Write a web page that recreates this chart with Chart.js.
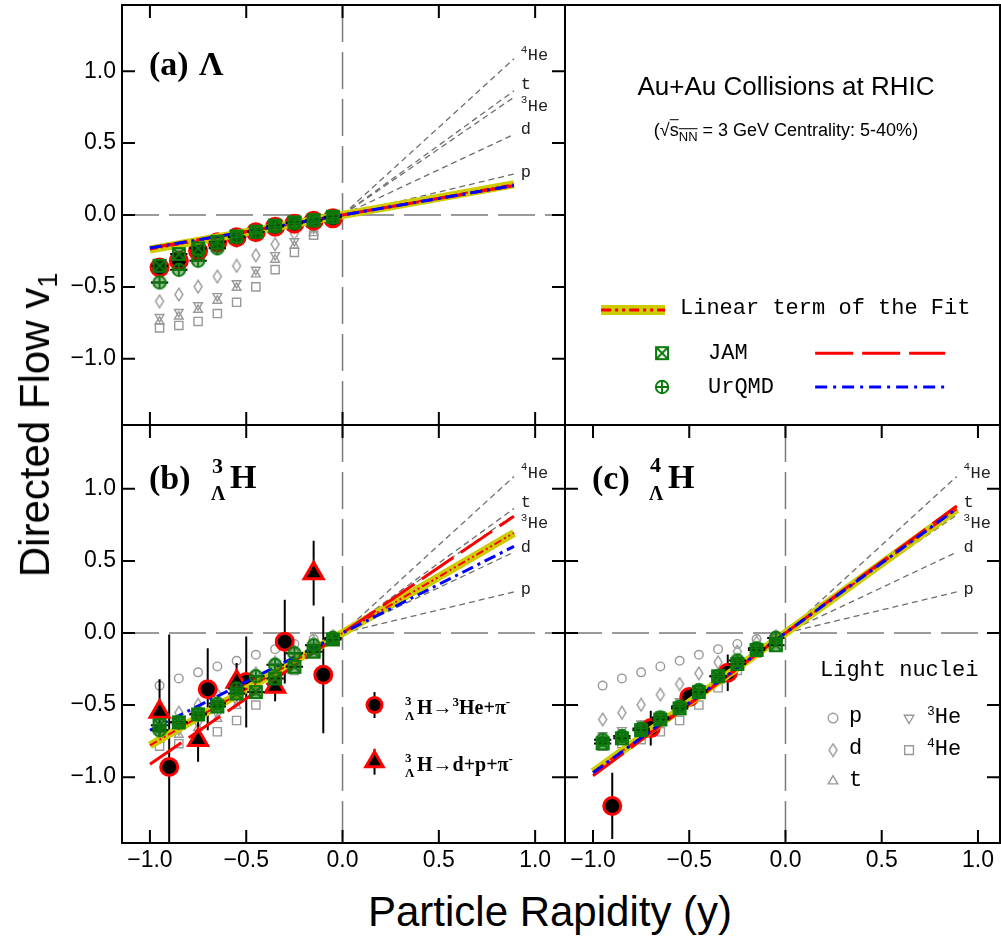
<!DOCTYPE html>
<html><head><meta charset="utf-8">
<script src="https://cdn.jsdelivr.net/npm/chart.js@4.4.1/dist/chart.umd.min.js"></script>
<style>
body{margin:0;background:#fff;width:1001px;height:944px;position:relative;overflow:hidden;font-family:'Liberation Sans',Arial,sans-serif}
canvas{position:absolute}
.t{position:absolute;white-space:nowrap;line-height:1;color:#000}
.mono{font-family:'Liberation Mono','Courier New',monospace}
.serif{font-family:'Liberation Serif','Times New Roman',serif;font-weight:bold}
.vc{transform:translateY(-50%)}
.cc{transform:translate(-50%,-50%)}
sup{line-height:0}
</style></head><body>
<canvas id="ca" width="566" height="426" style="left:0px;top:0px"></canvas>
<canvas id="cl" width="437" height="422" style="left:564px;top:4px"></canvas>
<canvas id="cb" width="566" height="450" style="left:0px;top:424px"></canvas>
<canvas id="cc" width="437" height="450" style="left:564px;top:424px"></canvas>

<div class="t" style="left:38px;top:425px;font-size:42px;transform:translate(-50%,-50%) rotate(-90deg)">Directed Flow v<sub style="font-size:27px;vertical-align:-0.3em">1</sub></div>
<div class="t cc" style="left:550px;top:912px;font-size:42px">Particle Rapidity (y)</div>

<div class="t serif vc" style="left:149px;top:64px;font-size:34px">(a)</div>
<div class="t serif vc" style="left:199px;top:64px;font-size:34px">Λ</div>

<div class="t serif vc" style="left:149px;top:478px;font-size:34px">(b)</div>
<div class="t serif vc" style="left:212px;top:466px;font-size:22px">3</div>
<div class="t serif vc" style="left:211px;top:493px;font-size:20px">Λ</div>
<div class="t serif vc" style="left:230px;top:477px;font-size:34px">H</div>

<div class="t serif vc" style="left:592px;top:478px;font-size:34px">(c)</div>
<div class="t serif vc" style="left:650px;top:465px;font-size:22px">4</div>
<div class="t serif vc" style="left:649px;top:493px;font-size:20px">Λ</div>
<div class="t serif vc" style="left:668px;top:477px;font-size:34px">H</div>

<div class="t cc" style="left:786px;top:86px;font-size:26px">Au+Au Collisions at RHIC</div>
<div class="t cc" style="left:786px;top:132px;font-size:18px">(√<span style="text-decoration:overline">s<sub style="font-size:13px">NN</sub></span> = 3 GeV Centrality: 5-40%)</div>
<div class="t mono vc" style="left:680px;top:309px;font-size:22px">Linear term of the Fit</div>
<div class="t mono vc" style="left:708px;top:354px;font-size:22px">JAM</div>
<div class="t mono vc" style="left:708px;top:388px;font-size:22px">UrQMD</div>

<div class="t serif vc" style="left:405px;top:700px;font-size:13px">3</div>
<div class="t serif vc" style="left:405px;top:715px;font-size:13px">Λ</div>
<div class="t serif vc" style="left:417px;top:707px;font-size:20px">H→<sup style="font-size:13px">3</sup>He+π<sup style="font-size:13px">-</sup></div>
<div class="t serif vc" style="left:405px;top:757px;font-size:13px">3</div>
<div class="t serif vc" style="left:405px;top:772px;font-size:13px">Λ</div>
<div class="t serif vc" style="left:417px;top:764px;font-size:20px">H→d+p+π<sup style="font-size:13px">-</sup></div>

<div class="t mono vc" style="left:820px;top:671px;font-size:22px">Light nuclei</div>
<div class="t mono vc" style="left:849px;top:717px;font-size:22px">p</div>
<div class="t mono vc" style="left:849px;top:749px;font-size:22px">d</div>
<div class="t mono vc" style="left:849px;top:781px;font-size:22px">t</div>
<div class="t mono vc" style="left:927px;top:718px;font-size:22px"><sup style="font-size:13px">3</sup>He</div>
<div class="t mono vc" style="left:927px;top:750px;font-size:22px"><sup style="font-size:13px">4</sup>He</div>

<script>
// ---------------- data ----------------
const rapidityBins = [-0.95, -0.85, -0.75, -0.65, -0.55, -0.45, -0.35, -0.25, -0.15, -0.05];
const tickValues = [-1.0, -0.5, 0.0, 0.5, 1.0];

// light nuclei v1 (same reference points in every panel)
const v1Proton   = [-0.365, -0.315, -0.273, -0.232, -0.193, -0.151, -0.112, -0.076, -0.042, -0.015];
const v1Deuteron = [-0.600, -0.553, -0.498, -0.428, -0.354, -0.280, -0.203, -0.128, -0.065, -0.022];
const v1Triton   = [-0.741, -0.706, -0.659, -0.596, -0.506, -0.413, -0.311, -0.214, -0.126, -0.056];
const v1Helium3  = [-0.709, -0.674, -0.627, -0.564, -0.474, -0.381, -0.279, -0.182, -0.094, -0.024];
const v1Helium4  = [-0.785, -0.768, -0.740, -0.685, -0.607, -0.500, -0.380, -0.260, -0.140, -0.050];

// slopes of the light nuclei reference lines
const nucleiNames  = ['p', 'd', '3He', 't', '4He'];
const nucleiSlopes = [0.32, 0.63, 0.92, 0.97, 1.22];
const nucleiLineEnd = 0.89;

// (a) Lambda
const lambdaV1    = [-0.365, -0.318, -0.249, -0.190, -0.155, -0.120, -0.081, -0.060, -0.040, -0.023];
const jamLambda   = [-0.353, -0.272, -0.232, -0.186, -0.149, -0.116, -0.074, -0.051, -0.036, -0.012];
const urqmdLambda = [-0.469, -0.381, -0.318, -0.232, -0.155, -0.118, -0.080, -0.057, -0.038, -0.018];

// (b) hypertriton
const h3TwoBodyY    = [-0.9, -0.7, -0.5, -0.3, -0.1];
const h3TwoBodyV1   = [-0.93, -0.39, -0.34, -0.06, -0.29];
const h3TwoBodyErr  = [0.92, 0.285, 0.315, 0.29, 0.405];
const h3ThreeBodyY   = [-0.95, -0.75, -0.55, -0.35, -0.15];
const h3ThreeBodyV1  = [-0.546, -0.743, -0.338, -0.373, 0.415];
const h3ThreeBodyErr = [0.225, 0.15, 0.13, 0.10, 0.225];
const jamH3   = [-0.640, -0.620, -0.565, -0.510, -0.420, -0.410, -0.315, -0.235, -0.130, -0.045];
const urqmdH3 = [-0.675, -0.620, -0.560, -0.490, -0.385, -0.300, -0.220, -0.140, -0.085, -0.035];

// (c) hyperhydrogen-4
const h4Y   = [-0.9, -0.7, -0.5, -0.3];
const h4V1  = [-1.20, -0.66, -0.444, -0.276];
const h4Err = [0.23, 0.12, 0.04, 0.127];
const jamH4   = [-0.766, -0.731, -0.674, -0.600, -0.523, -0.410, -0.300, -0.215, -0.118, -0.085];
const urqmdH4 = [-0.740, -0.715, -0.662, -0.586, -0.510, -0.396, -0.300, -0.190, -0.106, -0.035];

// slopes: [linear term of fit, JAM, UrQMD]
const fitSlopesLambda = [0.24, 0.23, 0.23];
const fitSlopesH3     = [0.78, 0.91, 0.675];
const fitSlopesH4     = [0.965, 0.99, 0.97];
const fitRange = [-1.0, 0.89];
const modelBinHalfWidth = 0.045;

// ---------------- styles ----------------
const GREEN = '#0b7a0b', GRAY = '#999999', YELLOW = '#cccc00', RED = '#ff0000', BLUE = '#0000ff';
const SANS = "'Liberation Sans', Arial, sans-serif";
const MONO = "'Liberation Mono', 'Courier New', monospace";

function mk(w, h, draw){ const c = document.createElement('canvas'); c.width = w; c.height = h; draw(c.getContext('2d')); return c; }
const makeBoxX = fill => mk(16, 16, g => { if (fill) { g.fillStyle = fill; g.fillRect(2, 2, 12, 12); }
  g.strokeStyle = GREEN; g.lineWidth = 2; g.strokeRect(2, 2, 12, 12);
  g.beginPath(); g.moveTo(2, 2); g.lineTo(14, 14); g.moveTo(14, 2); g.lineTo(2, 14); g.stroke(); });
const makeCirclePlus = fill => mk(16, 16, g => { g.beginPath(); g.arc(8, 8, 6.2, 0, Math.PI * 2);
  if (fill) { g.fillStyle = fill; g.fill(); }
  g.strokeStyle = GREEN; g.lineWidth = 2; g.stroke();
  g.beginPath(); g.moveTo(8, 1.5); g.lineTo(8, 14.5); g.moveTo(1.5, 8); g.lineTo(14.5, 8); g.stroke(); });
const boxX = makeBoxX(null), circlePlus = makeCirclePlus(null);
const boxXPlot = makeBoxX('rgba(0,95,0,0.5)'), circlePlusPlot = makeCirclePlus('rgba(0,95,0,0.4)');
const diamond = mk(12, 15, g => { g.strokeStyle = GRAY; g.lineWidth = 1.4; g.beginPath();
  g.moveTo(6, 1.2); g.lineTo(10, 7.5); g.lineTo(6, 13.8); g.lineTo(2, 7.5); g.closePath(); g.stroke(); });

const pts = (xs, ys) => xs.map((x, i) => ({ x, y: ys[i] }));
const fmt = v => (v < -1e-9 ? '\u2212' : '') + Math.abs(v).toFixed(1);

// ---------------- plugins ----------------
const errorBars = {
  id: 'errorBars',
  beforeDatasetDraw(chart, args) {
    const ds = chart.data.datasets[args.index];
    if (!ds.errY && !ds.errX) return;
    const { ctx, chartArea: a, scales: { x, y } } = chart;
    ctx.save();
    ctx.beginPath(); ctx.rect(a.left, a.top, a.right - a.left, a.bottom - a.top); ctx.clip();
    ctx.strokeStyle = '#000'; ctx.lineWidth = 2; ctx.setLineDash([]);
    ctx.beginPath();
    ds.data.forEach((p, i) => {
      if (ds.errY) { const e = ds.errY[i];
        ctx.moveTo(x.getPixelForValue(p.x), y.getPixelForValue(p.y - e));
        ctx.lineTo(x.getPixelForValue(p.x), y.getPixelForValue(p.y + e)); }
      if (ds.errX) {
        ctx.moveTo(x.getPixelForValue(p.x - ds.errX), y.getPixelForValue(p.y));
        ctx.lineTo(x.getPixelForValue(p.x + ds.errX), y.getPixelForValue(p.y)); }
    });
    ctx.stroke(); ctx.restore();
  }
};

const frameTicks = {
  id: 'frameTicks',
  beforeDatasetsDraw(chart, args, o) {
    if (!o.zero) return;
    const { ctx, chartArea: a, scales: { x, y } } = chart;
    ctx.save(); ctx.strokeStyle = '#7a7a7a'; ctx.lineWidth = 1.5; ctx.setLineDash([37, 10]);
    const y0 = y.getPixelForValue(0), x0 = x.getPixelForValue(0);
    ctx.beginPath(); ctx.moveTo(a.left, y0); ctx.lineTo(a.right, y0); ctx.stroke();
    ctx.beginPath(); ctx.moveTo(x0, a.top); ctx.lineTo(x0, a.bottom); ctx.stroke();
    ctx.restore();
  },
  afterDatasetsDraw(chart, args, o) {
    if (!o.labels) return;
    const { ctx, scales: { x, y } } = chart;
    const dy = { 'p': -2, 'd': -5, '3He': 9, 't': -6, '4He': -3 };
    ctx.save(); ctx.fillStyle = '#222'; ctx.textBaseline = 'middle'; ctx.textAlign = 'left';
    nucleiNames.forEach((n, i) => {
      const px = x.getPixelForValue(nucleiLineEnd + 0.035);
      const py = y.getPixelForValue(nucleiLineEnd * nucleiSlopes[i]) + dy[n];
      if (n.length > 1) {
        ctx.font = '11px ' + MONO; ctx.fillText(n[0], px, py - 6);
        ctx.font = '17px ' + MONO; ctx.fillText(n.slice(1), px + 7, py);
      } else { ctx.font = '17px ' + MONO; ctx.fillText(n, px, py); }
    });
    ctx.restore();
  },
  afterDraw(chart, args, o) {
    const { ctx, chartArea: a, scales: { x, y } } = chart;
    ctx.save(); ctx.strokeStyle = '#000'; ctx.lineWidth = 2; ctx.setLineDash([]);
    ctx.strokeRect(a.left, a.top, a.right - a.left, a.bottom - a.top);
    if (o.ticks) {
      ctx.beginPath();
      tickValues.forEach(v => {
        const px = x.getPixelForValue(v);
        if (px > a.left + 2 && px < a.right - 2) { ctx.moveTo(px, a.bottom); ctx.lineTo(px, a.bottom - 13); ctx.moveTo(px, a.top); ctx.lineTo(px, a.top + 13); }
        const py = y.getPixelForValue(v);
        if (py > a.top + 2 && py < a.bottom - 2) { ctx.moveTo(a.left, py); ctx.lineTo(a.left + 13, py); ctx.moveTo(a.right, py); ctx.lineTo(a.right - 13, py); }
      });
      ctx.stroke();
    }
    ctx.restore();
  }
};

// ---------------- dataset builders ----------------
function nucleiDatasets() {
  const base = { pointBackgroundColor: 'rgba(0,0,0,0)', pointBorderColor: GRAY, pointBorderWidth: 1.4, order: 40 };
  const ds = [
    { ...base, data: pts(rapidityBins, v1Helium4), pointStyle: 'rect', pointRadius: 5.8 },
    { ...base, data: pts(rapidityBins, v1Triton), pointStyle: 'triangle', pointRadius: 5 },
    { ...base, data: pts(rapidityBins, v1Helium3), pointStyle: 'triangle', pointRotation: 180, pointRadius: 5 },
    { ...base, data: pts(rapidityBins, v1Deuteron), pointStyle: diamond, pointRadius: 5 },
    { ...base, data: pts(rapidityBins, v1Proton), pointStyle: 'circle', pointRadius: 4.3 }
  ];
  nucleiSlopes.forEach(s => ds.push({
    data: [{ x: 0, y: 0 }, { x: nucleiLineEnd, y: nucleiLineEnd * s }], showLine: true,
    borderColor: '#6e6e6e', borderWidth: 1.3, borderDash: [6, 4], pointRadius: 0, order: 35
  }));
  return ds;
}
function fitDatasets(slopes) {
  const line = s => fitRange.map(x => ({ x, y: s * x }));
  return [
    { data: line(slopes[0]), showLine: true, borderColor: YELLOW, borderWidth: 8, pointRadius: 0, order: 20 },
    { data: line(slopes[0]), showLine: true, borderColor: RED, borderWidth: 2, borderDash: [8, 3, 2, 3, 2, 3], pointRadius: 0, order: 19 },
    { data: line(slopes[1]), showLine: true, borderColor: RED, borderWidth: 3, borderDash: [38, 9], pointRadius: 0, order: 18 },
    { data: line(slopes[2]), showLine: true, borderColor: BLUE, borderWidth: 3, borderDash: [12, 5, 3, 5], pointRadius: 0, order: 17 }
  ];
}
function modelDatasets(jam, urqmd) {
  return [
    { data: pts(rapidityBins, jam), pointStyle: boxXPlot, pointRadius: 7, errX: modelBinHalfWidth, order: 6 },
    { data: pts(rapidityBins, urqmd), pointStyle: circlePlusPlot, pointRadius: 7, errX: modelBinHalfWidth, order: 5 }
  ];
}
const circleData = (xs, ys, err, order) => ({ data: pts(xs, ys), errY: err, pointStyle: 'circle', pointRadius: 8.5,
  pointBorderWidth: 3, pointBorderColor: RED, pointBackgroundColor: '#000', order });
const triData = (xs, ys, err, order, r) => ({ data: pts(xs, ys), errY: err, pointStyle: 'triangle', pointRadius: r,
  pointBorderWidth: 3, pointBorderColor: RED, pointBackgroundColor: '#000', order });

function makeChart(id, cfg) {
  return new Chart(document.getElementById(id), {
    type: 'scatter',
    data: { datasets: cfg.datasets },
    options: {
      responsive: false, animation: false, devicePixelRatio: 1,
      layout: { padding: cfg.padding, autoPadding: false },
      events: [],
      plugins: { legend: { display: false }, tooltip: { enabled: false }, frameTicks: cfg.frame },
      scales: {
        x: { type: 'linear', min: cfg.x[0], max: cfg.x[1], display: !!cfg.xLabels,
          grid: { display: false, drawTicks: false }, border: { display: false },
          afterBuildTicks: s => { s.ticks = tickValues.map(v => ({ value: v })); },
          ticks: { font: { family: SANS, size: 23 }, color: '#000', padding: 4, maxRotation: 0, autoSkip: false, callback: fmt },
          afterFit: s => { if (!s.options.display) return; s.height = 31; s.paddingLeft = 0; s.paddingRight = 0; } },
        y: { type: 'linear', min: cfg.y[0], max: cfg.y[1], display: !!cfg.yLabels,
          grid: { display: false, drawTicks: false }, border: { display: false },
          afterBuildTicks: s => { s.ticks = tickValues.map(v => ({ value: v })); },
          ticks: { font: { family: SANS, size: 23 }, color: '#000', padding: 6, autoSkip: false, callback: fmt },
          afterFit: s => { if (!s.options.display) return; s.width = 122; s.paddingTop = 0; s.paddingBottom = 0; } }
      }
    },
    plugins: [errorBars, frameTicks]
  });
}

// (a) Lambda
makeChart('ca', {
  x: [-1.145, 1.155], y: [-1.46, 1.46], yLabels: true,
  padding: { top: 5, right: 1, bottom: 1, left: 0 },
  frame: { zero: true, ticks: true, labels: true },
  datasets: [
    ...nucleiDatasets(),
    circleData(rapidityBins, lambdaV1, null, 25),
    ...fitDatasets(fitSlopesLambda),
    ...modelDatasets(jamLambda, urqmdLambda)
  ]
});

// legend box
makeChart('cl', {
  x: [0, 1], y: [0, 1],
  padding: { top: 1, right: 1, bottom: 1, left: 1 },
  frame: {},
  datasets: [
    { data: [{ x: 0.083, y: 0.274 }, { x: 0.23, y: 0.274 }], showLine: true, borderColor: YELLOW, borderWidth: 10, pointRadius: 0, order: 9 },
    { data: [{ x: 0.083, y: 0.274 }, { x: 0.23, y: 0.274 }], showLine: true, borderColor: RED, borderWidth: 3, borderDash: [10, 4, 3, 4, 3, 4], pointRadius: 0, order: 8 },
    { data: [{ x: 0.575, y: 0.171 }, { x: 0.874, y: 0.171 }], showLine: true, borderColor: RED, borderWidth: 3, borderDash: [38, 9], pointRadius: 0, order: 7 },
    { data: [{ x: 0.575, y: 0.0905 }, { x: 0.874, y: 0.0905 }], showLine: true, borderColor: BLUE, borderWidth: 3, borderDash: [12, 6, 3, 6], pointRadius: 0, order: 6 },
    { data: [{ x: 0.223, y: 0.171 }], pointStyle: boxX, pointRadius: 7, order: 2 },
    { data: [{ x: 0.223, y: 0.0905 }], pointStyle: circlePlus, pointRadius: 7, order: 1 }
  ]
});

// (b) hypertriton
makeChart('cb', {
  x: [-1.145, 1.155], y: [-1.457, 1.443], xLabels: true, yLabels: true,
  padding: { top: 1, right: 1, bottom: 0, left: 0 },
  frame: { zero: true, ticks: true, labels: true },
  datasets: [
    ...nucleiDatasets(),
    circleData(h3TwoBodyY, h3TwoBodyV1, h3TwoBodyErr, 26),
    triData(h3ThreeBodyY, h3ThreeBodyV1, h3ThreeBodyErr, 25, 11),
    ...fitDatasets(fitSlopesH3),
    ...modelDatasets(jamH3, urqmdH3),
    { ...circleData([0.166], [-0.50], [0.09], 2), pointRadius: 7.5 },
    triData([0.166], [-0.893], [0.09], 1, 10)
  ]
});

// (c) hyperhydrogen-4
makeChart('cc', {
  x: [-1.1455, 1.1145], y: [-1.457, 1.443], xLabels: true,
  padding: { top: 1, right: 1, bottom: 0, left: 1 },
  frame: { zero: true, ticks: true, labels: true },
  datasets: [
    ...nucleiDatasets(),
    circleData(h4Y, h4V1, h4Err, 25),
    ...fitDatasets(fitSlopesH4),
    ...modelDatasets(jamH4, urqmdH4),
    { data: [{ x: 0.247, y: -0.59 }], pointStyle: 'circle', pointRadius: 4.8, pointBorderColor: GRAY, pointBackgroundColor: 'rgba(0,0,0,0)', pointBorderWidth: 1.4, order: 1 },
    { data: [{ x: 0.247, y: -0.8125 }], pointStyle: diamond, pointRadius: 5, order: 1 },
    { data: [{ x: 0.247, y: -1.028 }], pointStyle: 'triangle', pointRadius: 5.5, pointBorderColor: GRAY, pointBackgroundColor: 'rgba(0,0,0,0)', pointBorderWidth: 1.4, order: 1 },
    { data: [{ x: 0.642, y: -0.59 }], pointStyle: 'triangle', pointRotation: 180, pointRadius: 5.5, pointBorderColor: GRAY, pointBackgroundColor: 'rgba(0,0,0,0)', pointBorderWidth: 1.4, order: 1 },
    { data: [{ x: 0.642, y: -0.8125 }], pointStyle: 'rect', pointRadius: 6.2, pointBorderColor: GRAY, pointBackgroundColor: 'rgba(0,0,0,0)', pointBorderWidth: 1.4, order: 1 }
  ]
});
</script>
</body></html>
